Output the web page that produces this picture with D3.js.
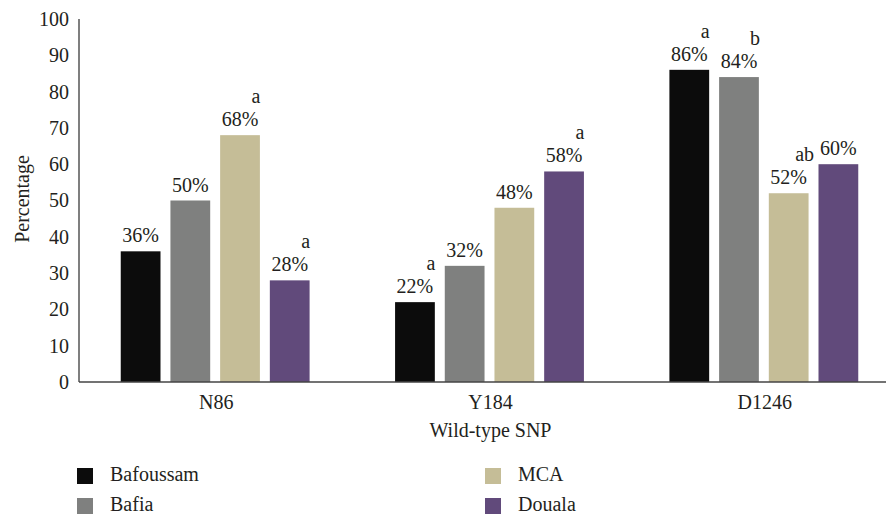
<!DOCTYPE html>
<html>
<head>
<meta charset="utf-8">
<script src="https://cdn.jsdelivr.net/npm/d3@7"></script>
<style>
  html, body { margin: 0; padding: 0; background: #fff; }
  svg { display: block; }
  text { font-family: "Liberation Serif", "Times New Roman", serif; fill: #231f20; }
</style>
</head>
<body>
<svg id="chart" width="887" height="514"></svg>
<script>
// ---- data ----
const categories = ["N86", "Y184", "D1246"];
const seriesNames = ["Bafoussam", "Bafia", "MCA", "Douala"];
const seriesColors = ["#0c0c0c", "#7f807f", "#c5bd97", "#614a7b"];
const bafoussam = [36, 22, 86];
const bafia = [50, 32, 84];
const mca = [68, 48, 52];
const douala = [28, 58, 60];
const yTicks = [0, 10, 20, 30, 40, 50, 60, 70, 80, 90, 100];
const sigLetters = [
  { category: "N86", series: "MCA", letter: "a" },
  { category: "N86", series: "Douala", letter: "a" },
  { category: "Y184", series: "Bafoussam", letter: "a" },
  { category: "Y184", series: "Douala", letter: "a" },
  { category: "D1246", series: "Bafoussam", letter: "a" },
  { category: "D1246", series: "Bafia", letter: "b" },
  { category: "D1246", series: "MCA", letter: "ab" }
];
const xTitle = "Wild-type SNP";
const yTitle = "Percentage";

const seriesValues = [bafoussam, bafia, mca, douala];
const rows = [];
categories.forEach((c, ci) => {
  seriesNames.forEach((s, si) => {
    rows.push({ category: c, series: s, value: seriesValues[si][ci] });
  });
});

// ---- layout ----
const svg = d3.select("#chart");
const plotLeft = 79, axisRight = 886, rangeRight = 902;
const plotTop = 19, plotBottom = 382;
const fs = 20;

const x0 = d3.scaleBand().domain(categories).range([plotLeft, rangeRight]).paddingInner(0).paddingOuter(0);
const x1 = d3.scaleBand().domain(seriesNames).range([0, x0.bandwidth()]).paddingInner(0.2).paddingOuter(0.86);
const y = d3.scaleLinear().domain([0, 100]).range([plotBottom, plotTop]);
const color = d3.scaleOrdinal().domain(seriesNames).range(seriesColors);

// bars
svg.append("g").selectAll("rect").data(rows).join("rect")
  .attr("x", d => x0(d.category) + x1(d.series) - 1)
  .attr("y", d => y(d.value))
  .attr("width", x1.bandwidth())
  .attr("height", d => y(0) - y(d.value))
  .attr("fill", d => color(d.series));

// value labels
svg.append("g").selectAll("text").data(rows).join("text")
  .attr("x", d => x0(d.category) + x1(d.series) - 1 + x1.bandwidth() / 2)
  .attr("y", d => y(d.value) - 9)
  .attr("text-anchor", "middle")
  .style("font-size", fs + "px")
  .text(d => d.value + "%");

// significance letters
svg.append("g").selectAll("text").data(sigLetters).join("text")
  .attr("x", d => x0(d.category) + x1(d.series) - 1 + x1.bandwidth() / 2 + 16)
  .attr("y", d => {
    const r = rows.find(r => r.category === d.category && r.series === d.series);
    return y(r.value) - 9 - 23;
  })
  .attr("text-anchor", "middle")
  .style("font-size", fs + "px")
  .text(d => d.letter);

// y axis
const yAxis = d3.axisLeft(y).tickValues(yTicks).tickSize(0).tickPadding(10);
const gy = svg.append("g").attr("transform", `translate(${plotLeft},0)`).call(yAxis);
gy.select(".domain").remove();
gy.selectAll("text").style("font-size", fs + "px").style("font-family", "'Liberation Serif', serif").attr("fill", "#231f20");
svg.append("line").attr("x1", plotLeft).attr("x2", plotLeft).attr("y1", plotTop).attr("y2", plotBottom)
  .attr("stroke", "#555").attr("stroke-width", 1.5);

// x axis
const xAxis = d3.axisBottom(x0).tickSize(0).tickPadding(13);
const gx = svg.append("g").attr("transform", `translate(0,${plotBottom})`).call(xAxis);
gx.select(".domain").remove();
gx.selectAll("text").style("font-size", fs + "px").style("font-family", "'Liberation Serif', serif").attr("fill", "#231f20");
svg.append("line").attr("x1", plotLeft).attr("x2", axisRight).attr("y1", plotBottom).attr("y2", plotBottom)
  .attr("stroke", "#444").attr("stroke-width", 1.5);

// titles
svg.append("text").attr("x", (plotLeft + rangeRight) / 2).attr("y", 437)
  .attr("text-anchor", "middle").style("font-size", fs + "px").text(xTitle);
svg.append("text").attr("transform", "translate(29,199) rotate(-90)")
  .attr("text-anchor", "middle").style("font-size", fs + "px").text(yTitle);

// legend
const legendPos = [[77, 468], [77, 498], [485, 468], [485, 498]];
const lg = svg.append("g").selectAll("g").data(seriesNames).join("g")
  .attr("transform", (d, i) => `translate(${legendPos[i][0]},${legendPos[i][1]})`);
lg.append("rect").attr("width", 16).attr("height", 16).attr("fill", d => color(d));
lg.append("text").attr("x", 33).attr("y", 13).style("font-size", fs + "px").text(d => d);
</script>
</body>
</html>
